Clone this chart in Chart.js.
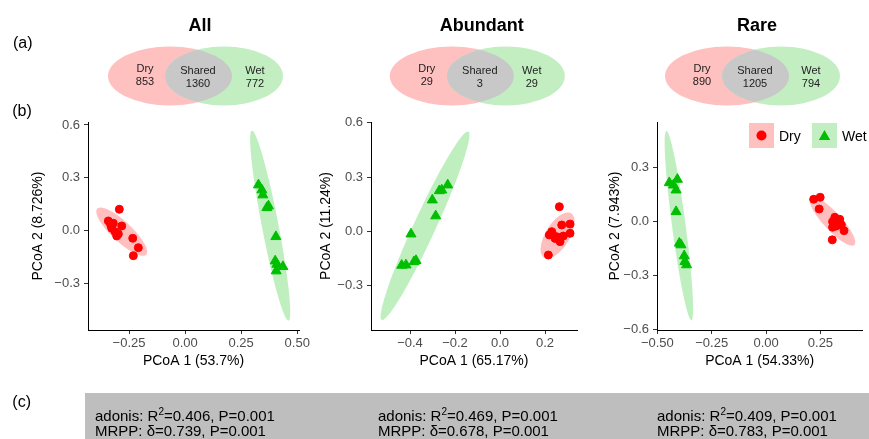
<!DOCTYPE html>
<html>
<head>
<meta charset="utf-8">
<script src="https://cdn.jsdelivr.net/npm/chart.js@4.4.0/dist/chart.umd.min.js"></script>
<style>
   body { margin: 0; width: 869px; height: 439px; overflow: hidden; background: #fff; position: relative; font-family: "Liberation Sans", Arial, sans-serif; }
   canvas { position: absolute; left: 0; top: 0; }
   .t { position: absolute; transform: translate(-50%, -50%); white-space: nowrap; line-height: 1; }
   .title { font-weight: bold; font-size: 18px; color: #000; }
   .tag { font-size: 16px; color: #000; }
   .venn { font-size: 11px; color: #222; }
   #stats { position: absolute; left: 85px; top: 393px; width: 784px; height: 46px; background: #BEBEBE; }
   .stat { position: absolute; top: 16px; font-size: 15px; line-height: 14.5px; color: #000; white-space: nowrap; }
   .stat sup { font-size: 10px; line-height: 0; vertical-align: 6px; }
   .leg { position: absolute; top: 123px; width: 25px; height: 25px; }
   .legtxt { position: absolute; top: 128px; font-size: 14px; line-height: 16px; color: #000; }
</style>
</head>
<body>
<canvas id="chartAll" width="869" height="439"></canvas>
<canvas id="chartAbun" width="869" height="439"></canvas>
<canvas id="chartRare" width="869" height="439"></canvas>
<svg id="venn" width="869" height="120" style="position:absolute;left:0;top:0"></svg>
<div id="labels"></div>
<div id="stats"></div>
<div class="leg" style="left:749px;background:#FFC0C0"><svg width="25" height="25"><circle cx="12.5" cy="12.5" r="5" fill="#FF0000"/></svg></div>
<div class="legtxt" style="left:779px">Dry</div>
<div class="leg" style="left:812px;background:#C2EEC2"><svg width="25" height="25"><polygon points="12.5,7 18.2,17 6.8,17" fill="#00BE00"/></svg></div>
<div class="legtxt" style="left:842px">Wet</div>
<script>
const panelTitles = ["All", "Abundant", "Rare"]
const vennDry = [853, 29, 890]
const vennShared = [1360, 3, 1205]
const vennWet = [772, 29, 794]
const xTitles = ["PCoA 1 (53.7%)", "PCoA 1 (65.17%)", "PCoA 1 (54.33%)"]
const yTitles = ["PCoA 2 (8.726%)", "PCoA 2 (11.24%)", "PCoA 2 (7.943%)"]
const adonisR2 = ["0.406", "0.469", "0.409"]
const adonisP = ["0.001", "0.001", "0.001"]
const mrppDelta = ["0.739", "0.678", "0.783"]
const mrppP = ["0.001", "0.001", "0.001"]

// All
const allDryX = [-0.2933, -0.3424, -0.3201, -0.2826, -0.3272, -0.3125, -0.2978, -0.3049, -0.2335, -0.2085, -0.2308, -0.3317]
const allDryY = [0.1215, 0.0551, 0.042, 0.0267, 0.0136, -0.0057, -0.0187, -0.0301, -0.0432, -0.0965, -0.142, 0.0324]
const allWetX = [0.3272, 0.3424, 0.3469, 0.3719, 0.3647, 0.4049, 0.4018, 0.4094, 0.4362, 0.4063]
const allWetY = [0.2595, 0.2311, 0.2027, 0.1403, 0.1306, -0.0341, -0.1721, -0.1908, -0.2044, -0.2288]
// Abundant
const abunDryX = [0.2636, 0.2298, 0.2191, 0.2742, 0.3111, 0.3111, 0.252, 0.2444, 0.2667, 0.2813, 0.2147, 0.2333]
const abunDryY = [0.137, -0.001, -0.019, 0.036, 0.041, -0.01, -0.029, -0.038, -0.056, -0.025, -0.13, -0.017]
const abunWetX = [-0.2324, -0.259, -0.2698, -0.3009, -0.2858, -0.3956, -0.3733, -0.3822, -0.4178, -0.4369]
const abunWetY = [0.257, 0.229, 0.225, 0.174, 0.086, -0.014, -0.161, -0.167, -0.185, -0.187]
// Rare
const rareDryX = [0.219, 0.2487, 0.2442, 0.3161, 0.3386, 0.3058, 0.3314, 0.3462, 0.3584, 0.3058, 0.3237, 0.3044]
const rareDryY = [0.122, 0.133, 0.068, 0.022, 0.011, -0.002, -0.011, -0.02, -0.052, -0.033, -0.026, -0.103]
const rareWetX = [-0.4451, -0.4078, -0.4258, -0.4137, -0.4137, -0.3988, -0.3912, -0.3764, -0.3732, -0.3656]
const rareWetY = [0.2135, 0.2323, 0.2008, 0.1731, 0.0531, -0.1217, -0.1311, -0.1919, -0.2235, -0.2417]

// confidence ellipses: centre x, centre y, major half-axis (dx, dy), minor half-axis (dx, dy)
const allDryEllipse = [-0.2826, -0.0057, 0.1094, -0.1306, 0.0305, 0.0414]
const allWetEllipse = [0.3795, 0.0284, -0.0817, 0.5395, 0.0364, 0.0089]
const abunDryEllipse = [0.2556, -0.0221, 0.06, 0.1226, 0.0456, -0.0344]
const abunWetEllipse = [-0.3333, 0.0315, 0.1924, 0.52, 0.0444, -0.0254]
const rareDryEllipse = [0.3049, 0.0006, 0.1012, -0.1316, 0.0292, 0.0343]
const rareWetEllipse = [-0.401, -0.0243, -0.0576, 0.5254, 0.031, 0.0051]

// tick values
const xTicksAll = [-0.25, 0, 0.25, 0.5]
const yTicksAll = [-0.3, 0, 0.3, 0.6]
const xTicksAbun = [-0.4, -0.2, 0, 0.2]
const yTicksAbun = [-0.3, 0, 0.3, 0.6]
const xTicksRare = [-0.5, -0.25, 0, 0.25]
const yTicksRare = [-0.6, -0.3, 0, 0.3]

const dryColor = "#FF0000"
const wetColor = "#00BE00"
const dryFill = "rgba(255,0,0,0.25)"
const wetFill = "rgba(0,190,0,0.25)"

Chart.defaults.font.family = "'Liberation Sans', Arial, sans-serif"

const toPoints = (xs, ys) => xs.map((x, i) => ({ x: x, y: ys[i] }))
const fmt = (v, dec) => (v < 0 ? "\u2212" : "") + Math.abs(v).toFixed(dec)

const ellipsePlugin = {
   id: "ellipses",
   beforeDatasetsDraw(chart, args, opts) {
      const { ctx } = chart
      const xs = chart.scales.x
      const ys = chart.scales.y
      ;(opts.items || []).forEach(e => {
         const [cx, cy, ax, ay, bx, by] = e.values
         ctx.save()
         ctx.beginPath()
         for (let i = 0; i <= 90; i++) {
            const t = (i / 90) * Math.PI * 2
            const px = xs.getPixelForValue(cx + Math.cos(t) * ax + Math.sin(t) * bx)
            const py = ys.getPixelForValue(cy + Math.cos(t) * ay + Math.sin(t) * by)
            if (i === 0) ctx.moveTo(px, py)
            else ctx.lineTo(px, py)
         }
         ctx.closePath()
         ctx.fillStyle = e.color
         ctx.fill()
         ctx.restore()
      })
   },
}

const axisStyle = (ticks, dec, title, tickPad) => ({
   type: "linear",
   afterBuildTicks: s => {
      s.ticks = ticks.map(v => ({ value: v }))
   },
   ticks: {
      callback: v => fmt(v, dec),
      color: "#4D4D4D",
      font: { size: 13 },
      padding: tickPad,
      autoSkip: false,
      maxRotation: 0,
   },
   grid: {
      display: true,
      drawOnChartArea: false,
      drawTicks: true,
      tickLength: 4,
      tickColor: "#333333",
      tickWidth: 1,
   },
   border: { display: true, color: "#000000", width: 1 },
   title: {
      display: true,
      text: title,
      color: "#000000",
      font: { size: 14 },
      padding: { top: 0, bottom: 0 },
   },
})

const makePanel = (id, p) => {
   const yBoxLeft = p.yTitleX - 8.4
   const xScale = axisStyle(p.xTicks, p.xDec, p.xTitle, 2)
   xScale.min = p.xMin
   xScale.max = p.xMax
   xScale.afterFit = s => {
      s.height = 40
   }
   const yScale = axisStyle(p.yTicks, 1, p.yTitle, 4)
   yScale.min = p.yMin
   yScale.max = p.yMax
   yScale.afterFit = s => {
      s.width = p.left - yBoxLeft
   }
   new Chart(document.getElementById(id), {
      type: "scatter",
      data: {
         datasets: [
            {
               label: "Dry",
               data: toPoints(p.dryX, p.dryY),
               pointStyle: "circle",
               pointRadius: 4,
               borderWidth: 1,
               backgroundColor: dryColor,
               borderColor: dryColor,
            },
            {
               label: "Wet",
               data: toPoints(p.wetX, p.wetY),
               pointStyle: "triangle",
               pointRadius: 5.8,
               borderWidth: 1,
               backgroundColor: wetColor,
               borderColor: wetColor,
            },
         ],
      },
      options: {
         responsive: false,
         animation: false,
         events: [],
         devicePixelRatio: 1,
         layout: {
            padding: { left: yBoxLeft, top: 122, right: 869 - p.right, bottom: 69 },
         },
         plugins: {
            legend: { display: false },
            tooltip: { enabled: false },
            ellipses: {
               items: [
                  { values: p.dryEllipse, color: dryFill },
                  { values: p.wetEllipse, color: wetFill },
               ],
            },
         },
         scales: { x: xScale, y: yScale },
      },
      plugins: [ellipsePlugin],
   })
}

makePanel("chartAll", {
   dryX: allDryX, dryY: allDryY, wetX: allWetX, wetY: allWetY,
   dryEllipse: allDryEllipse, wetEllipse: allWetEllipse,
   xTicks: xTicksAll, yTicks: yTicksAll, xDec: 2,
   xTitle: xTitles[0], yTitle: yTitles[0],
   xMin: -0.433, xMax: 0.508, yMin: -0.564, yMax: 0.617,
   left: 88, right: 299, yTitleX: 38.5,
})
makePanel("chartAbun", {
   dryX: abunDryX, dryY: abunDryY, wetX: abunWetX, wetY: abunWetY,
   dryEllipse: abunDryEllipse, wetEllipse: abunWetEllipse,
   xTicks: xTicksAbun, yTicks: yTicksAbun, xDec: 1,
   xTitle: xTitles[1], yTitle: yTitles[1],
   xMin: -0.5733, xMax: 0.342, yMin: -0.5442, yMax: 0.605,
   left: 371, right: 577, yTitleX: 326,
})
makePanel("chartRare", {
   dryX: rareDryX, dryY: rareDryY, wetX: rareWetX, wetY: rareWetY,
   dryEllipse: rareDryEllipse, wetEllipse: rareWetEllipse,
   xTicks: xTicksRare, yTicks: yTicksRare, xDec: 2,
   xTitle: xTitles[2], yTitle: yTitles[2],
   xMin: -0.5015, xMax: 0.442, yMin: -0.603, yMax: 0.5505,
   left: 657, right: 866, yTitleX: 615,
})

// Venn diagrams and text
const vennCx = [197, 478.8, 754]
const wetOffset = [58, 53, 57]
const labels = document.getElementById("labels")
const addText = (html, x, y, cls) => {
   const d = document.createElement("div")
   d.className = "t " + cls
   d.style.left = x + "px"
   d.style.top = y + "px"
   d.innerHTML = html
   labels.appendChild(d)
}

let svg = ""
panelTitles.forEach((title, i) => {
   const c = vennCx[i]
   svg += `<clipPath id="clip${i}"><ellipse cx="${c + 27}" cy="76" rx="59" ry="29.5"/></clipPath>`
   svg += `<ellipse cx="${c - 27}" cy="76" rx="62" ry="29.5" fill="#FFC0C0"/>`
   svg += `<ellipse cx="${c + 27}" cy="76" rx="59" ry="29.5" fill="#C2EEC2"/>`
   svg += `<ellipse cx="${c - 27}" cy="76" rx="62" ry="29.5" fill="#C8C8C8" clip-path="url(#clip${i})"/>`

   addText(title, c + 3, 25, "title")
   addText("Dry", c - 52, 68, "venn")
   addText(vennDry[i], c - 52, 81, "venn")
   addText("Shared", c + 1, 70, "venn")
   addText(vennShared[i], c + 1, 83, "venn")
   addText("Wet", c + wetOffset[i], 70, "venn")
   addText(vennWet[i], c + wetOffset[i], 83, "venn")
})
document.getElementById("venn").innerHTML = svg

addText("(a)", 22.7, 43.3, "tag")
addText("(b)", 22, 111, "tag")
addText("(c)", 21.7, 401.7, "tag")

const stats = document.getElementById("stats")
const statX = [10, 293, 572]
statX.forEach((x, i) => {
   const d = document.createElement("div")
   d.className = "stat"
   d.style.left = x + "px"
   d.innerHTML = `adonis: R<sup>2</sup>=${adonisR2[i]}, P=${adonisP[i]}<br>MRPP: \u03b4=${mrppDelta[i]}, P=${mrppP[i]}`
   stats.appendChild(d)
})
</script>
</body>
</html>
